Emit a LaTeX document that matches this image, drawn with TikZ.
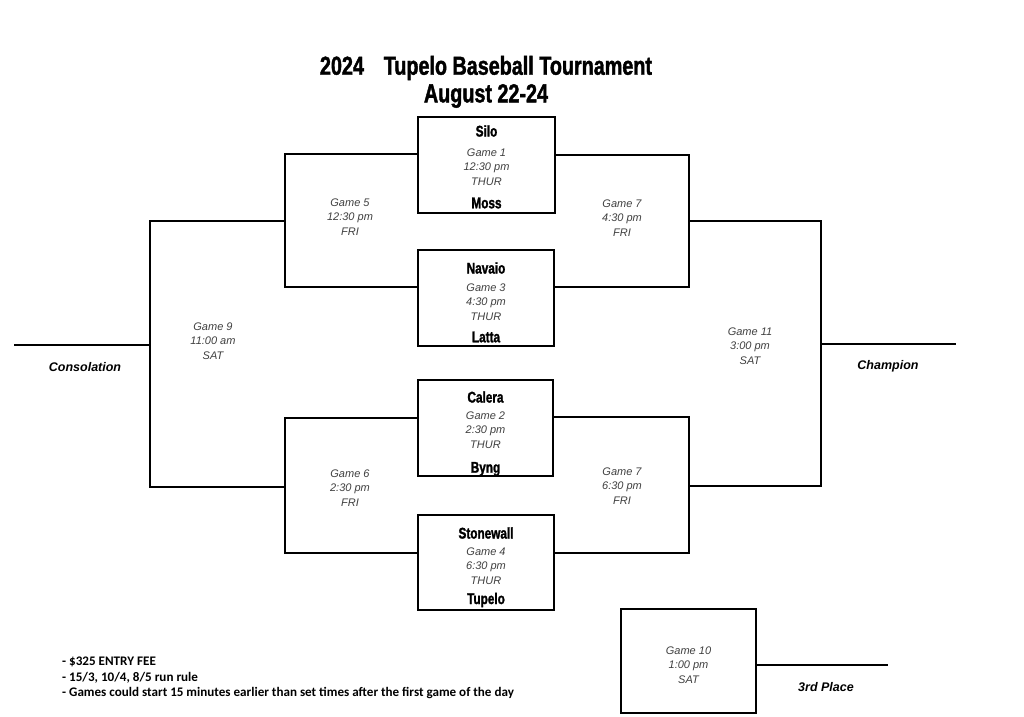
\documentclass[tikz,border=0pt]{standalone}
\usepackage{fontspec}
\setmainfont{Liberation Sans}
\newfontfamily\impact[FakeStretch=0.76,FakeBold=1.5]{Liberation Sans Bold}
\newfontfamily\notefont{Carlito}
\definecolor{gametext}{gray}{0.25}
\begin{document}
\begin{tikzpicture}[x=1pt,y=-1pt,
  line/.style={line width=1.9pt, line cap=rect, line join=miter},
  gamebox/.style={draw, line width=1.9pt, inner sep=0pt},
  gameinfo/.style={align=center, inner sep=0pt, text=gametext, font=\fontsize{11}{14.5}\selectfont\itshape},
  team/.style={inner sep=0pt, font=\impact\fontsize{15.5}{15}\selectfont},
  place/.style={inner sep=0pt, font=\fontsize{12.5}{14}\selectfont\bfseries\itshape},
  titletext/.style={align=center, inner sep=0pt, font=\impact\fontsize{26}{28}\selectfont}]
\useasboundingbox (0,0) rectangle (1024,716);
\fill[white] (0,0) rectangle (1024,716);

% title
\node[titletext] (title) at (486,68) {2024\hspace{0.55em} Tupelo Baseball Tournament};
\node[titletext] (subtitle) at (486,96) {August 22-24};

% first round boxes
\node[gamebox, minimum width=137pt, minimum height=96pt] (g1) at (486.5,165) {};
\node[gamebox, minimum width=136pt, minimum height=96pt] (g3) at (486,298) {};
\node[gamebox, minimum width=135pt, minimum height=96pt] (g2) at (485.5,428) {};
\node[gamebox, minimum width=136pt, minimum height=95pt] (g4) at (486,562.5) {};
\node[gamebox, minimum width=135pt, minimum height=104pt] (g10) at (688.5,661) {};

% box contents
\node[team] (t1a) at (486.5,131) {Silo};
\node[gameinfo] (i1) at (486.5,167) {Game 1\\12:30 pm\\THUR};
\node[team] (t1b) at (486.5,203) {Moss};

\node[team] (t3a) at (486,268) {Navaio};
\node[gameinfo] (i3) at (486,302) {Game 3\\4:30 pm\\THUR};
\node[team] (t3b) at (486,337) {Latta};

\node[team] (t2a) at (485.5,397) {Calera};
\node[gameinfo] (i2) at (485.5,430) {Game 2\\2:30 pm\\THUR};
\node[team] (t2b) at (485.5,469) {Byng};

\node[team] (t4a) at (486,533) {Stonewall};
\node[gameinfo] (i4) at (486,566) {Game 4\\6:30 pm\\THUR};
\node[team] (t4b) at (486,600) {Tupelo};

\node[gameinfo] (i10) at (688.5,665) {Game 10\\1:00 pm\\SAT};

% bracket coordinates
\coordinate (g5t) at (285,154);
\coordinate (g5b) at (285,287);
\coordinate (g7t) at (689,155);
\coordinate (g7b) at (689,287);
\coordinate (g6t) at (285,418);
\coordinate (g6b) at (285,553);
\coordinate (g8t) at (689,417);
\coordinate (g8b) at (689,553);
\coordinate (g9t) at (150,221);
\coordinate (g9b) at (150,487);
\coordinate (g11t) at (821,221);
\coordinate (g11b) at (821,486);
\coordinate (cons) at (15,345);
\coordinate (consj) at (150,345);
\coordinate (champ) at (955,344);
\coordinate (champj) at (821,344);
\coordinate (third) at (887,665);

% game 5
\draw[line] (g1.west |- g5t) -- (g5t) -- (g5b) -- (g3.west |- g5b);
% game 7 (top)
\draw[line] (g1.east |- g7t) -- (g7t) -- (g7b) -- (g3.east |- g7b);
% game 6
\draw[line] (g2.west |- g6t) -- (g6t) -- (g6b) -- (g4.west |- g6b);
% game 7 (bottom)
\draw[line] (g2.east |- g8t) -- (g8t) -- (g8b) -- (g4.east |- g8b);
% game 9
\draw[line] (285,221) -- (g9t) -- (g9b) -- (285,487);
\draw[line] (consj) -- (cons);
% game 11
\draw[line] (689,221) -- (g11t) -- (g11b) -- (689,486);
\draw[line] (champj) -- (champ);
% game 10
\draw[line] (g10.east |- third) -- (third);

% bracket labels
\node[gameinfo] (l5) at (350,217) {Game 5\\12:30 pm\\FRI};
\node[gameinfo] (l7a) at (622,218) {Game 7\\4:30 pm\\FRI};
\node[gameinfo] (l6) at (350,488) {Game 6\\2:30 pm\\FRI};
\node[gameinfo] (l7b) at (622,486) {Game 7\\6:30 pm\\FRI};
\node[gameinfo] (l9) at (213,341) {Game 9\\11:00 am\\SAT};
\node[gameinfo] (l11) at (750,346) {Game 11\\3:00 pm\\SAT};

\node[place] (pcons) at (85,367) {Consolation};
\node[place] (pchamp) at (888,366) {Champion};
\node[place] (pthird) at (826,687) {3rd Place};

% notes
\node[anchor=north west, align=left, inner sep=0pt, font=\notefont\bfseries\fontsize{13.1}{15.5}\selectfont] (notes) at (62,657)
  {- \$325 ENTRY FEE\\- 15/3, 10/4, 8/5 run rule\\- Games could start 15 minutes earlier than set times after the first game of the day};
\end{tikzpicture}
\end{document}
